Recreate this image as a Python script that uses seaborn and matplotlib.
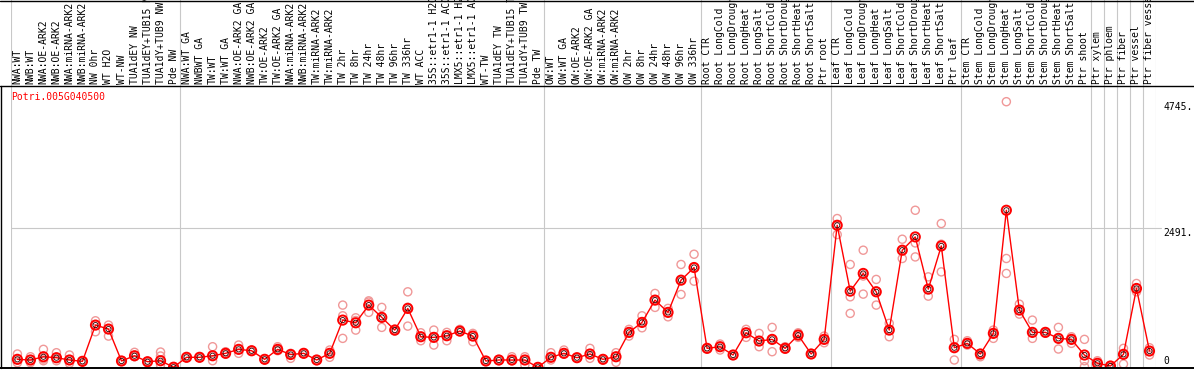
import numpy as np
import pandas as pd
import matplotlib
matplotlib.use("Agg")
import matplotlib.pyplot as plt
import seaborn as sns

gene = "Potri.005G040500"

samples = [
    # NW
    "NWA:WT", "NWB:WT", "NWA:OE-ARK2", "NWB:OE-ARK2", "NWA:miRNA-ARK2", "NWB:miRNA-ARK2",
    "NW 0hr", "WT H2O", "WT-NW", "TUA1dEY NW", "TUA1dEY+TUB15 NW", "TUA1dY+TUB9 NW", "Pde NW",
    # TW
    "NWA:WT GA", "NWBWT GA", "TW:WT", "TW:WT GA", "NWA:OE-ARK2 GA", "NWB:OE-ARK2 GA",
    "TW:OE-ARK2", "TW:OE-ARK2 GA", "NWA:miRNA-ARK2", "NWB:miRNA-ARK2", "TW:miRNA-ARK2",
    "TW:miRNA-ARK2", "TW 2hr", "TW 8hr", "TW 24hr", "TW 48hr", "TW 96hr", "TW 336hr",
    "WT ACC", "35S::etr1-1 H2O", "35S::etr1-1 ACC", "LMX5::etr1-1 H2O", "LMX5::etr1-1 ACC",
    "WT-TW", "TUA1dEY TW", "TUA1dEY+TUB15 TW", "TUA1dY+TUB9 TW", "Pde TW",
    # OW
    "OW:WT", "OW:WT GA", "OW:OE-ARK2", "OW:OE-ARK2 GA", "OW:miRNA-ARK2", "OW:miRNA-ARK2",
    "OW 2hr", "OW 8hr", "OW 24hr", "OW 48hr", "OW 96hr", "OW 336hr",
    # root
    "Root CTR", "Root LongCold", "Root LongDrought", "Root LongHeat", "Root LongSalt",
    "Root ShortCold", "Root ShortDrought", "Root ShortHeat", "Root ShortSalt", "Ptr root",
    # leaf
    "Leaf CTR", "Leaf LongCold", "Leaf LongDrought", "Leaf LongHeat", "Leaf LongSalt",
    "Leaf ShortCold", "Leaf ShortDrought", "Leaf ShortHeat", "Leaf ShortSalt", "Ptr leaf",
    # stem
    "Stem CTR", "Stem LongCold", "Stem LongDrought", "Stem LongHeat", "Stem LongSalt",
    "Stem ShortCold", "Stem ShortDrought", "Stem ShortHeat", "Stem ShortSalt", "Ptr shoot",
    # wood cells
    "Ptr xylem", "Ptr phloem", "Ptr fiber", "Ptr vessel", "Ptr fiber vessel",
]

means = [
    146, 134, 192, 175, 134, 110, 757, 686, 116, 210, 103, 121, 5,
    182, 182, 210, 253, 324, 299, 146, 324, 232, 253, 134, 253, 846, 798, 1114, 895,
    668, 1055, 549, 538, 567, 650, 561, 116, 134, 134, 134, 3,
    182, 253, 175, 241, 146, 192, 627, 805, 1203, 984, 1559, 1785,
    342, 371, 223, 620, 472, 502, 342, 579, 241, 502,
    2539, 1363, 1679, 1351, 668, 2094, 2331, 1399, 2170, 353,
    431, 241, 609, 2807, 1025, 627, 627, 520, 502, 223,
    75, 27, 235, 1411, 294,
]

replicates = [
    [241, 86, 146], [192, 86, 134], [324, 121, 150], [264, 121, 160], [223, 75, 134],
    [121, 100, 110], [834, 638, 757], [757, 561, 686], [116, 110, 125], [271, 192, 210],
    [103, 110, 95], [276, 205, 45], [0, 0, 10],
    [182, 190, 175], [182, 175, 190], [371, 121, 210], [282, 253, 240], [401, 253, 324],
    [299, 310, 290], [146, 140, 155], [371, 324, 300], [253, 164, 232], [253, 262, 245],
    [134, 125, 140], [312, 182, 253], [1114, 923, 520], [887, 839, 668], [1190, 1168, 984],
    [1073, 716, 896], [668, 650, 686], [1351, 739, 1075], [620, 478, 549], [668, 401, 538],
    [627, 478, 567], [681, 650, 640], [609, 460, 561], [116, 110, 125], [134, 125, 140],
    [192, 134, 120], [192, 45, 134], [0, 3, 6],
    [264, 134, 182], [312, 253, 240], [175, 170, 180], [342, 164, 241], [146, 140, 155],
    [264, 93, 192], [681, 561, 627], [923, 709, 805], [1322, 1073, 1203], [1055, 905, 984],
    [1839, 1304, 1559], [2022, 1541, 1785],
    [342, 335, 350], [419, 312, 371], [223, 215, 230], [681, 538, 620], [609, 371, 472],
    [716, 282, 502], [371, 342, 330], [620, 538, 579], [241, 235, 250], [561, 442, 502],
    [2659, 2373, 2539], [1839, 1262, 966], [2094, 1310, 1633], [1572, 1114, 1367],
    [788, 549, 668], [2290, 1946, 2094], [2807, 2224, 1974], [1618, 1274, 1399],
    [2570, 2201, 1707], [502, 134, 353],
    [478, 431, 400], [192, 241, 250], [668, 520, 609], [4745, 1946, 1679], [1131, 953, 1025],
    [846, 520, 627], [627, 615, 640], [716, 330, 520], [549, 431, 502], [502, 121, 14],
    [121, 14, 75], [27, 0, 20], [342, 62, 235], [1500, 1351, 1411], [353, 223, 294],
]

separators = [12.5, 40.5, 52.5, 62.5, 72.5, 82.5, 83.5, 84.5, 85.5, 86.5]
y_ticks = [4745, 2491, 0]
y_tick_labels = ["4745.", "2491.", "0"]
y_label_shift = [-5, -5, 6]

# long-form tables for seaborn
pos = np.arange(len(samples))
df_mean = pd.DataFrame({"pos": pos, "value": means})
df_rep = pd.DataFrame(
    [(i, v) for i, vals in enumerate(replicates) for v in vals],
    columns=["pos", "value"],
)

sns.set_style("white")
plt.rcParams["font.family"] = ["DejaVu Sans Mono", "DejaVu Sans"]

W, H = 1194, 370
left_px, right_px = 10.9, 1156.0
header_px, bottom_px = 85.5, 367.5

fig = plt.figure(figsize=(W / 100, H / 100), dpi=100)
ax = fig.add_axes([left_px / W, (H - bottom_px) / H,
                   (right_px - left_px) / W, (bottom_px - header_px) / H])
hax = fig.add_axes([left_px / W, (H - header_px) / H,
                    (right_px - left_px) / W, header_px / H])

for a in (ax, hax):
    a.set_xlim(-0.5, len(samples) - 0.5)
    a.axis("off")
    for b in [-0.5] + separators + [len(samples) - 0.5]:
        a.axvline(b, color="#c8c8c8", lw=0.8, zorder=0)
ax.set_ylim(0, 5034)
hax.set_ylim(0, 1)

# horizontal grid line at the middle tick
ax.plot([-0.5, len(samples) - 0.1], [2491, 2491], color="#c8c8c8", lw=0.8,
        zorder=0, clip_on=False)

# replicates
sns.scatterplot(data=df_rep, x="pos", y="value", ax=ax, marker="o",
                facecolors="none", edgecolor="#f09898", linewidth=1.0, s=34,
                zorder=2, legend=False)
# mean line and markers
sns.lineplot(data=df_mean, x="pos", y="value", ax=ax, color="#ff0000", lw=1.0,
             zorder=3, legend=False)
sns.scatterplot(data=df_mean, x="pos", y="value", ax=ax, marker="o",
                facecolors="none", edgecolor="#ff0000", linewidth=1.4, s=44,
                zorder=4, legend=False)
sns.scatterplot(data=df_mean, x="pos", y="value", ax=ax, marker="o",
                facecolors="none", edgecolor="#300000", linewidth=0.6, s=14,
                zorder=5, legend=False)
ax.set_xlabel("")
ax.set_ylabel("")

# sample labels in header
for i, s in enumerate(samples):
    hax.text(i, 0.02, s, rotation=90, ha="center", va="bottom", fontsize=7,
             color="black", clip_on=True)

# gene name
ax.annotate(gene, xy=(0, 1), xycoords="axes fraction", xytext=(0, -7),
            textcoords="offset pixels", ha="left", va="top", fontsize=7,
            color="#ff0000")

# value labels on the right
for v, lbl, dy in zip(y_ticks, y_tick_labels, y_label_shift):
    ax.annotate(lbl, xy=(1, v), xycoords=("axes fraction", "data"),
                xytext=(7, dy), textcoords="offset pixels", ha="left",
                va="center", fontsize=7, color="black", annotation_clip=False)

# outer frame
frame = fig.add_axes([0, 0, 1, 1], zorder=10)
frame.set_xlim(0, W)
frame.set_ylim(H, 0)
frame.axis("off")
frame.patch.set_alpha(0)
frame.plot([0, W], [0.5, 0.5], color="black", lw=1)
frame.plot([0, W], [header_px, header_px], color="black", lw=1)
frame.plot([0, W], [bottom_px + 0.5, bottom_px + 0.5], color="black", lw=1.4)
frame.plot([0.8, 0.8], [header_px, bottom_px + 0.5], color="black", lw=1)

fig.savefig("out.png", dpi=100)
